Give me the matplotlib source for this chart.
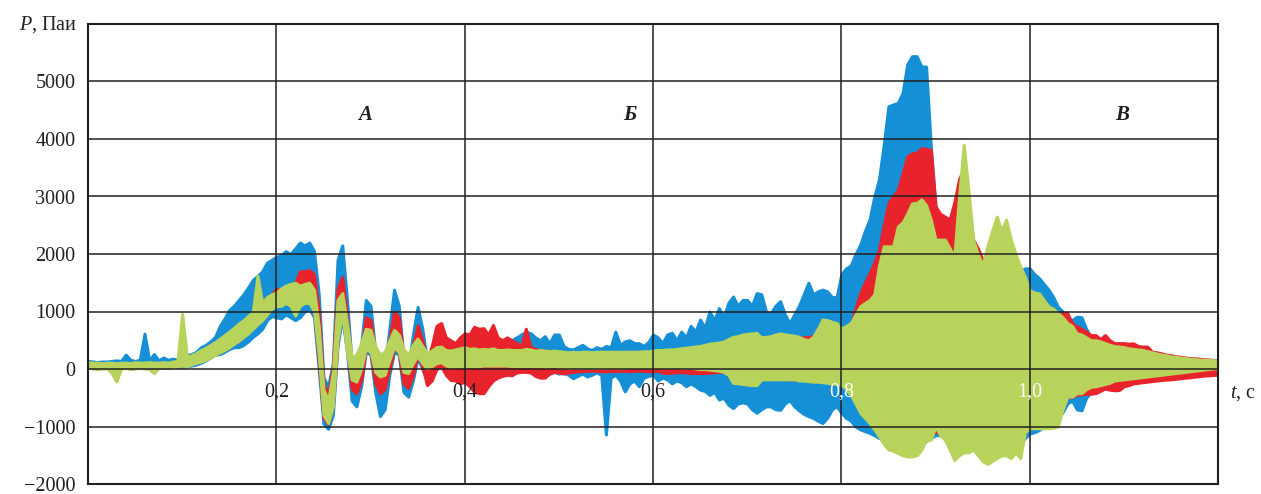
#!/usr/bin/env python3
"""
Pressure pulsations P(t) for three sensors (blue, red, green),
drawn as min/max envelopes read off the reference figure.
Saves out.png (1261x494).
"""

import numpy as np
import matplotlib
matplotlib.use("Agg")
import matplotlib.pyplot as plt

# time grid, s (step 0.005)
T = np.round(np.arange(0, 241) * 0.005, 3)

# blue sensor: upper / lower envelope, Pa
BLUE_UP = [
    140, 130, 120, 130, 130, 140, 150, 140, 250, 160, 140, 160, 615, 150, 260, 150, 200, 160, 180, 160,
    200, 240, 260, 300, 380, 420, 480, 560, 750, 880, 1030, 1100, 1200, 1300, 1420, 1550, 1620, 1700, 1850, 1900,
    1950, 1980, 2050, 2000, 2100, 2200, 2150, 2200, 2050, 1300, -150, -300, 100, 1900, 2150, 1200, 100, -100, 400, 1200,
    1100, 300, -300, 0, 700, 1380, 1100, 200, 0, 600, 1080, 700, 150, 300, 600, 650, 400, 350, 400, 450,
    500, 450, 500, 450, 480, 450, 500, 450, 480, 520, 500, 550, 600, 650, 620, 550, 500, 570, 450, 600,
    600, 400, 350, 340, 380, 420, 360, 330, 380, 350, 400, 380, 650, 420, 480, 500, 450, 450, 400, 470,
    600, 550, 450, 600, 630, 500, 650, 550, 750, 650, 860, 720, 1000, 850, 1060, 900, 1150, 1260, 1100, 1200,
    1200, 1100, 1320, 1300, 1000, 970, 1100, 1180, 950, 800, 950, 1100, 1300, 1500, 1300, 1350, 1380, 1350, 1250, 1250,
    1650, 1750, 1800, 2000, 2160, 2400, 2600, 3000, 3300, 3900, 4570, 4600, 4630, 4800, 5300, 5440, 5440, 5260, 5260, 3870,
    2830, 2500, 2300, 2200, 2100, 2000, 2000, 2000, 1900, 1800, 1800, 1800, 2300, 2400, 2000, 1900, 1900, 1800, 1700, 1750,
    1750, 1650, 1580, 1480, 1380, 1250, 1080, 1000, 900, 850, 910, 900, 700, 550, 500, 450, 450, 420, 430, 400,
    360, 340, 330, 320, 310, 290, 270, 260, 250, 230, 220, 200, 190, 180, 170, 160, 155, 150, 145, 140, 140,
]
BLUE_LO = [
    30, 30, 20, 20, 30, 20, 30, 30, 30, 20, 30, 30, 30, 30, 20, 30, 30, 30, 40, 40,
    40, 50, 60, 80, 110, 150, 200, 250, 260, 300, 350, 380, 380, 420, 480, 560, 620, 700, 850, 920,
    900, 880, 950, 900, 850, 900, 1000, 1050, 900, 0, -950, -1040, -800, 400, 900, 300, -550, -650, -300, 300,
    250, -400, -820, -700, -100, 300, 250, -400, -480, -200, 200, 0, -200, -150, 0, 50, -50, -150, -100, -50,
    -50, -100, -50, -50, -80, -60, -50, -30, -40, -20, 0, 0, 20, 20, 0, -50, -60, -100, -80, -50,
    -80, -60, -100, -160, -120, -80, -130, -100, -60, -100, -1140, -150, -100, -200, -390, -250, -200, -300, -150, -120,
    -100, -200, -150, -180, -250, -200, -230, -300, -250, -300, -360, -380, -450, -400, -530, -500, -620, -680, -600, -580,
    -600, -700, -760, -700, -650, -650, -700, -710, -600, -540, -650, -720, -780, -820, -850, -900, -940, -850, -700, -650,
    -760, -850, -900, -1000, -1050, -1080, -1110, -1150, -1200, -1200, -1250, -1250, -1250, -1250, -1300, -1300, -1300, -1300, -1250, -1200,
    -1150, -1150, -1200, -1250, -1300, -1300, -1300, -1300, -1300, -1300, -1300, -1300, -1300, -1300, -1300, -1300, -1300, -1300, -1300, -1200,
    -1120, -1100, -1060, -1000, -950, -900, -850, -750, -600, -550, -700, -720, -500, -400, -350, -300, -300, -280, -250, -220,
    -170, -160, -150, -140, -130, -120, -110, -100, -90, -80, -70, -60, -50, -40, -30, -20, -10, 0, 10, 20, 20,
]

# red sensor
RED_UP = [
    110, 100, 100, 90, 100, 100, 90, 100, 100, 90, 110, 100, 100, 110, 100, 100, 110, 100, 120, 130,
    200, 200, 230, 270, 320, 360, 410, 460, 520, 580, 640, 710, 780, 840, 910, 990, 1080, 1140, 1240, 1290,
    1400, 1380, 1350, 1450, 1500, 1700, 1700, 1720, 1650, 1000, -250, -450, 50, 1400, 1600, 900, 50, -100, 300, 900,
    850, 300, -200, 0, 500, 1000, 900, 200, -50, 400, 760, 500, 150, 400, 750, 800, 550, 500, 450, 550,
    620, 600, 736, 700, 710, 600, 765, 550, 500, 550, 500, 450, 400, 700, 380, 350, 330, 320, 300, 280,
    280, 260, 250, 250, 240, 250, 250, 240, 240, 250, 240, 240, 250, 250, 250, 250, 250, 250, 250, 260,
    260, 270, 270, 280, 280, 280, 290, 300, 300, 320, 330, 340, 350, 360, 380, 400, 400, 420, 430, 450,
    450, 460, 470, 480, 490, 500, 500, 510, 520, 520, 530, 540, 550, 560, 570, 580, 590, 600, 600, 620,
    650, 700, 750, 1050, 1320, 1500, 1670, 1850, 2080, 2500, 2890, 3000, 3120, 3400, 3700, 3750, 3760, 3840, 3830, 3810,
    2830, 2700, 2650, 2600, 2900, 3300, 3500, 2800, 2250, 2100, 1900, 1800, 1900, 1800, 1800, 1900, 1800, 1700, 1600, 1500,
    1110, 1000, 900, 850, 800, 800, 800, 980, 970, 800, 740, 700, 650, 590, 590, 520, 590, 500, 450, 450,
    450, 440, 446, 400, 390, 388, 300, 290, 272, 250, 240, 220, 214, 200, 190, 185, 180, 170, 165, 157, 155,
]
RED_LO = [
    30, 20, 10, 20, 20, -50, -200, 20, 30, 10, 20, 30, 20, 10, -60, 30, 30, 30, 40, 50,
    70, 60, 90, 120, 140, 170, 210, 260, 300, 340, 390, 450, 500, 570, 630, 710, 790, 860, 960, 1060,
    1150, 1150, 1200, 1150, 1000, 1150, 1200, 1200, 1050, 150, -850, -950, -650, 500, 1000, 400, -350, -420, -200, 350,
    300, -250, -420, -350, 0, 350, 300, -250, -330, -100, 250, 50, -280, -200, 0, 50, -100, -190, -200, -250,
    -220, -300, -390, -420, -420, -300, -200, -150, -120, -100, -110, -60, -50, -50, -60, -120, -150, -150, -80, -50,
    -60, -80, -60, -50, -40, -40, -30, -30, -30, -40, -40, -30, -40, -30, -30, -40, -30, -30, -30, -40,
    -40, -30, -60, -70, -60, -60, -50, -60, -70, -70, -70, -70, -60, -60, -50, -50, -50, -100, -200, -200,
    -150, -150, -160, -160, -160, -170, -170, -170, -170, -180, -180, -180, -190, -190, -200, -200, -200, -210, -220, -230,
    -200, -250, -300, -400, -500, -600, -700, -800, -900, -1000, -1100, -1100, -1150, -1150, -1200, -1200, -1200, -1200, -1150, -1100,
    -1100, -1100, -1150, -1150, -1200, -1200, -1200, -1200, -1200, -1200, -1200, -1200, -1200, -1200, -1200, -1200, -1200, -1200, -1200, -1000,
    -900, -850, -800, -750, -700, -650, -600, -550, -500, -480, -450, -440, -430, -430, -420, -380, -340, -360, -370, -365,
    -300, -280, -250, -240, -230, -220, -210, -200, -190, -185, -180, -170, -162, -150, -145, -133, -125, -115, -110, -104, -100,
]

# green sensor
GREEN_UP = [
    120, 110, 110, 100, 110, 110, 100, 110, 110, 100, 120, 110, 110, 120, 110, 110, 120, 110, 130, 140,
    960, 210, 240, 280, 330, 370, 420, 470, 530, 590, 650, 720, 790, 850, 920, 1000, 1620, 1150, 1250, 1300,
    1330, 1400, 1450, 1480, 1500, 1450, 1480, 1500, 1380, 750, -350, -550, -50, 1200, 1320, 800, 200, 250, 450, 700,
    680, 400, 250, 300, 500, 680, 600, 350, 250, 420, 530, 400, 280, 320, 380, 390, 330, 320, 340, 360,
    380, 350, 360, 340, 350, 340, 360, 330, 330, 340, 330, 330, 330, 350, 340, 320, 330, 320, 310, 320,
    310, 300, 290, 300, 290, 300, 300, 290, 300, 300, 300, 300, 300, 300, 300, 300, 300, 300, 310, 310,
    320, 330, 330, 340, 340, 350, 360, 370, 380, 390, 400, 420, 440, 450, 460, 480, 520, 560, 570, 600,
    610, 620, 626, 550, 560, 570, 600, 620, 600, 590, 580, 560, 520, 500, 560, 700, 860, 850, 820, 800,
    700, 750, 800, 950, 1090, 1150, 1200, 1300, 1800, 2134, 2134, 2134, 2480, 2550, 2700, 2880, 2890, 2950, 2850, 2600,
    2250, 2250, 2250, 2100, 1960, 3000, 3900, 3100, 2250, 2000, 1800, 2130, 2400, 2650, 2400, 2600, 2250, 2000, 1780, 1600,
    1370, 1330, 1316, 1200, 1090, 1050, 970, 900, 800, 750, 620, 600, 550, 500, 500, 480, 450, 420, 400, 390,
    380, 360, 350, 340, 330, 310, 290, 270, 250, 240, 220, 210, 200, 190, 180, 170, 165, 160, 158, 155, 150,
]
GREEN_LO = [
    20, 10, 0, 10, 10, -60, -215, 10, 20, 0, 10, 20, 10, 0, -70, 20, 20, 20, 30, 40,
    60, 50, 80, 110, 130, 160, 200, 250, 290, 330, 380, 440, 490, 560, 620, 700, 780, 850, 950, 1050,
    1090, 1100, 1150, 1100, 930, 1100, 1150, 1150, 1000, 250, -800, -940, -650, 500, 980, 300, -180, -220, 0, 350,
    300, -50, -130, -100, 150, 380, 300, -50, -70, 100, 230, 100, 10, 50, 100, 120, 60, 40, 40, 50,
    40, 50, 40, 50, 60, 60, 60, 60, 60, 60, 50, 50, 50, 50, 50, 40, 50, 40, 40, 50,
    30, 30, 20, 20, 20, 20, 20, 20, 20, 20, 20, 20, 20, 20, 20, 30, 30, 30, 30, 30,
    30, 30, 30, 30, 30, 30, 20, 20, 20, 10, 0, 0, -10, -20, -30, -50, -100, -240, -250, -260,
    -270, -280, -280, -180, -180, -180, -180, -180, -180, -180, -180, -200, -200, -210, -220, -220, -230, -240, -250, -260,
    -270, -350, -450, -600, -760, -850, -940, -1050, -1170, -1300, -1400, -1420, -1460, -1500, -1520, -1520, -1500, -1400, -1230, -1230,
    -1000, -1150, -1230, -1400, -1580, -1500, -1450, -1450, -1400, -1500, -1600, -1650, -1600, -1550, -1500, -1500, -1550, -1450, -1550, -1100,
    -1030, -1030, -1030, -1030, -1030, -1020, -1000, -700, -480, -480, -420, -420, -350, -310, -300, -280, -260, -240, -200, -190,
    -180, -170, -160, -150, -140, -130, -120, -110, -100, -90, -80, -70, -60, -50, -40, -30, -20, -10, 0, 10, 10,
]

X_TICKS = [0.2, 0.4, 0.6, 0.8, 1.0]
X_LABELS = ["0,2", "0,4", "0,6", "0,8", "1,0"]
Y_TICKS = [-2000, -1000, 0, 1000, 2000, 3000, 4000, 5000]
Y_LABELS = ["\u22122000", "\u22121000", "0", "1000", "2000", "3000", "4000", "5000"]
ZONES = ["А", "Б", "В"]
ZONE_T = [0.294, 0.575, 1.098]

BLUE = "#1590d6"
RED = "#e8232b"
GREEN = "#b7d35c"
INK = "#231f20"


def main():
    plt.rcParams["font.family"] = ["Liberation Serif", "DejaVu Serif"]
    plt.rcParams["mathtext.fontset"] = "custom"
    plt.rcParams["mathtext.rm"] = "Liberation Serif"
    plt.rcParams["mathtext.it"] = "Liberation Serif:italic"

    fig = plt.figure(figsize=(12.61, 4.94), dpi=100)
    ax = fig.add_axes([88 / 1261, 10 / 494, 1130 / 1261, 460 / 494])

    # envelopes: blue at the back, green in front; a thick edge keeps the
    # steep parts of the oscillations looking like a continuous trace
    for up, lo, col in [(BLUE_UP, BLUE_LO, BLUE), (RED_UP, RED_LO, RED), (GREEN_UP, GREEN_LO, GREEN)]:
        ax.fill_between(T, lo, up, color=col, lw=2.2, edgecolor=col,
                        joinstyle="round", zorder=1)

    ax.set_xlim(0, 1.2)
    ax.set_ylim(-2000, 6000)

    # grid drawn over the data, as in the original
    for x in X_TICKS:
        ax.axvline(x, color=INK, lw=1.1, zorder=3)
    for y in Y_TICKS[1:]:
        ax.axhline(y, color=INK, lw=1.1, zorder=3)

    for s in ax.spines.values():
        s.set_color(INK)
        s.set_linewidth(1.5)
        s.set_zorder(4)

    ax.set_xticks([])
    ax.set_yticks(Y_TICKS)
    ax.set_yticklabels(Y_LABELS)
    ax.tick_params(axis="y", length=0, pad=9, labelsize=14.5, colors=INK)

    for x, lab in zip(X_TICKS, X_LABELS):
        col = "white" if x >= 0.8 else INK
        ax.text(x, -400, lab, ha="center", va="center", fontsize=14.5, color=col, zorder=5)

    for x, lab in zip(ZONE_T, ZONES):
        ax.text(x, 4420, lab, ha="center", va="center", fontsize=15,
                fontweight="bold", fontstyle="italic", color=INK, zorder=5)

    fig.text(77 / 1261, 1 - 25 / 494, "$P$, Паи", ha="right", va="center", fontsize=14.5, color=INK)
    fig.text(1230 / 1261, 1 - 393 / 494, "$t$, с", ha="left", va="center", fontsize=14.5, color=INK)

    fig.savefig("out.png", dpi=100)
    plt.close(fig)


if __name__ == "__main__":
    main()
